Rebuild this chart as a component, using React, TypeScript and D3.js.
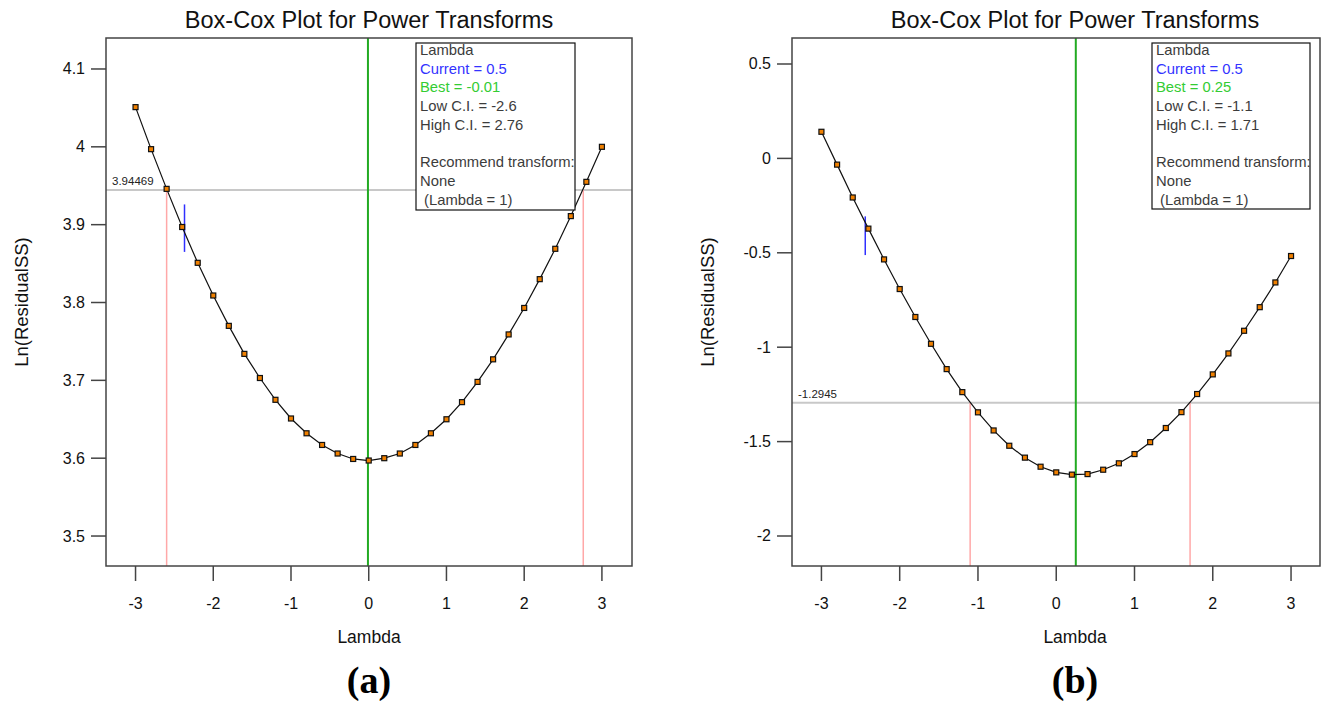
import React from "react";
import { scaleLinear, line } from "d3";

// Box-Cox plots, two panels side by side
const lambdas = [-3, -2.8, -2.6, -2.4, -2.2, -2, -1.8, -1.6, -1.4, -1.2, -1, -0.8, -0.6, -0.4, -0.2, 0,
  0.2, 0.4, 0.6, 0.8, 1, 1.2, 1.4, 1.6, 1.8, 2, 2.2, 2.4, 2.6, 2.8, 3];
const xTicks = [-3, -2, -1, 0, 1, 2, 3];

const lnSSA = [4.051, 3.997, 3.946, 3.897, 3.851, 3.809, 3.770, 3.734, 3.703, 3.675, 3.651, 3.632, 3.617,
  3.606, 3.599, 3.597, 3.600, 3.606, 3.617, 3.632, 3.650, 3.672, 3.698, 3.727, 3.759, 3.793, 3.830,
  3.869, 3.911, 3.955, 4.000];
const lnSSB = [0.141, -0.033, -0.207, -0.372, -0.535, -0.692, -0.840, -0.982, -1.116, -1.238, -1.345,
  -1.441, -1.522, -1.585, -1.633, -1.663, -1.675, -1.672, -1.649, -1.615, -1.566, -1.503, -1.428,
  -1.344, -1.248, -1.144, -1.033, -0.913, -0.788, -0.657, -0.517];

const yTicksA = [3.5, 3.6, 3.7, 3.8, 3.9, 4, 4.1];
const yTicksB = [-2, -1.5, -1, -0.5, 0, 0.5];

// [current, best, low CI, high CI, threshold]
const statsA = [0.5, -0.01, -2.6, 2.76, 3.94469];
const statsB = [0.5, 0.25, -1.1, 1.71, -1.2945];
// current marker: lambda, low, high
const markerA = [-2.37, 3.865, 3.926];
const markerB = [-2.44, -0.512, -0.307];

const FONT = "'Liberation Sans', Arial, sans-serif";

function Panel({ frame, xDomain, yDomain, values, yTicks, stats, marker, labelX, tag }) {
  const x = scaleLinear().domain(xDomain).range([frame.left, frame.right]);
  const y = scaleLinear().domain(yDomain).range([frame.bottom, frame.top]);
  const path = line().x((d) => x(d[0])).y((d) => y(d[1]));
  const pts = lambdas.map((l, i) => [l, values[i]]);
  const [current, best, low, high, thr] = stats;
  const yThr = y(thr);
  const cy = (frame.top + frame.bottom) / 2;

  const legend = [
    { t: "Lambda", c: "#3c3c3c" },
    { t: `Current = ${current}`, c: "#3333ff" },
    { t: `Best = ${best}`, c: "#33cc33" },
    { t: `Low C.I. = ${low}`, c: "#3c3c3c" },
    { t: `High C.I. = ${high}`, c: "#3c3c3c" },
    { t: "", c: "#3c3c3c" },
    { t: "Recommend transform:", c: "#3c3c3c" },
    { t: "None", c: "#3c3c3c" },
    { t: "\u00a0(Lambda = 1)", c: "#3c3c3c" },
  ];
  const box = frame.legend;

  return (
    <g fontFamily={FONT}>
      <text x={labelX} y={28} textAnchor="middle" fontSize={23.5} fill="#111">
        Box-Cox Plot for Power Transforms
      </text>

      {/* reference lines */}
      <line x1={frame.left} x2={frame.right} y1={yThr} y2={yThr} stroke="#c8c8c8" strokeWidth={2} />
      <line x1={x(low)} x2={x(low)} y1={yThr} y2={frame.bottom} stroke="#ffa8a8" strokeWidth={1.5} />
      <line x1={x(high)} x2={x(high)} y1={yThr} y2={frame.bottom} stroke="#ffa8a8" strokeWidth={1.5} />
      <line x1={x(best)} x2={x(best)} y1={frame.top} y2={frame.bottom} stroke="#22aa22" strokeWidth={2} />
      <text x={frame.left + 6} y={yThr - 5} fontSize={11.5} fill="#222">{thr}</text>

      <line x1={x(marker[0])} x2={x(marker[0])} y1={y(marker[1])} y2={y(marker[2])} stroke="#3030ff" strokeWidth={1.5} />

      <path d={path(pts)} fill="none" stroke="#111" strokeWidth={1.2} />
      {pts.map((d, i) => (
        <rect key={i} x={x(d[0]) - 2.5} y={y(d[1]) - 2.5} width={5} height={5}
          fill="#f08000" stroke="#111" strokeWidth={1.2} />
      ))}

      {/* legend */}
      <rect x={box.x} y={box.y} width={box.w} height={box.h} fill="#fff" stroke="#111" strokeWidth={1.2} />
      {legend.map((l, i) => (
        <text key={i} x={box.x + 4} y={box.y + 12 + i * 18.7} fontSize={14.8} fill={l.c}>{l.t}</text>
      ))}

      {/* frame */}
      <rect x={frame.left} y={frame.top} width={frame.right - frame.left} height={frame.bottom - frame.top}
        fill="none" stroke="#444" strokeWidth={1.5} />

      {xTicks.map((t) => (
        <g key={t}>
          <line x1={x(t)} x2={x(t)} y1={frame.bottom} y2={frame.bottom + 15} stroke="#444" strokeWidth={1.5} />
          <text x={x(t)} y={609} textAnchor="middle" fontSize={16} fill="#111">{t}</text>
        </g>
      ))}
      {yTicks.map((t) => (
        <g key={t}>
          <line x1={frame.left - 15} x2={frame.left} y1={y(t)} y2={y(t)} stroke="#444" strokeWidth={1.5} />
          <text x={frame.left - 21} y={y(t) + 5.5} textAnchor="end" fontSize={16} fill="#111">{t}</text>
        </g>
      ))}

      <text x={labelX} y={643} textAnchor="middle" fontSize={17.5} fill="#111">Lambda</text>
      <text transform={`translate(${frame.left - 78},${cy}) rotate(-90)`} textAnchor="middle" fontSize={18.5} fill="#111">
        Ln(ResidualSS)
      </text>
      <text x={labelX} y={693} textAnchor="middle" fontSize={38} fontWeight="bold"
        fontFamily="'Liberation Serif', 'Times New Roman', serif" fill="#000">{tag}</text>
    </g>
  );
}

export default function App() {
  const frameA = { left: 106, right: 632, top: 38, bottom: 566, legend: { x: 416, y: 43, w: 159, h: 167 } };
  const frameB = { left: 792, right: 1320, top: 38, bottom: 566, legend: { x: 1152, y: 43, w: 158, h: 166 } };
  return (
    <div style={{ position: "absolute", left: 0, top: 0 }}>
      <svg width={1325} height={701} style={{ display: "block", background: "#fff" }}>
        <Panel frame={frameA} xDomain={[-3.38, 3.387]} yDomain={[3.4615, 4.1398]} values={lnSSA}
          yTicks={yTicksA} stats={statsA} marker={markerA} labelX={369} tag="(a)" />
        <Panel frame={frameB} xDomain={[-3.376, 3.37]} yDomain={[-2.1589, 0.6377]} values={lnSSB}
          yTicks={yTicksB} stats={statsB} marker={markerB} labelX={1075} tag="(b)" />
      </svg>
    </div>
  );
}
